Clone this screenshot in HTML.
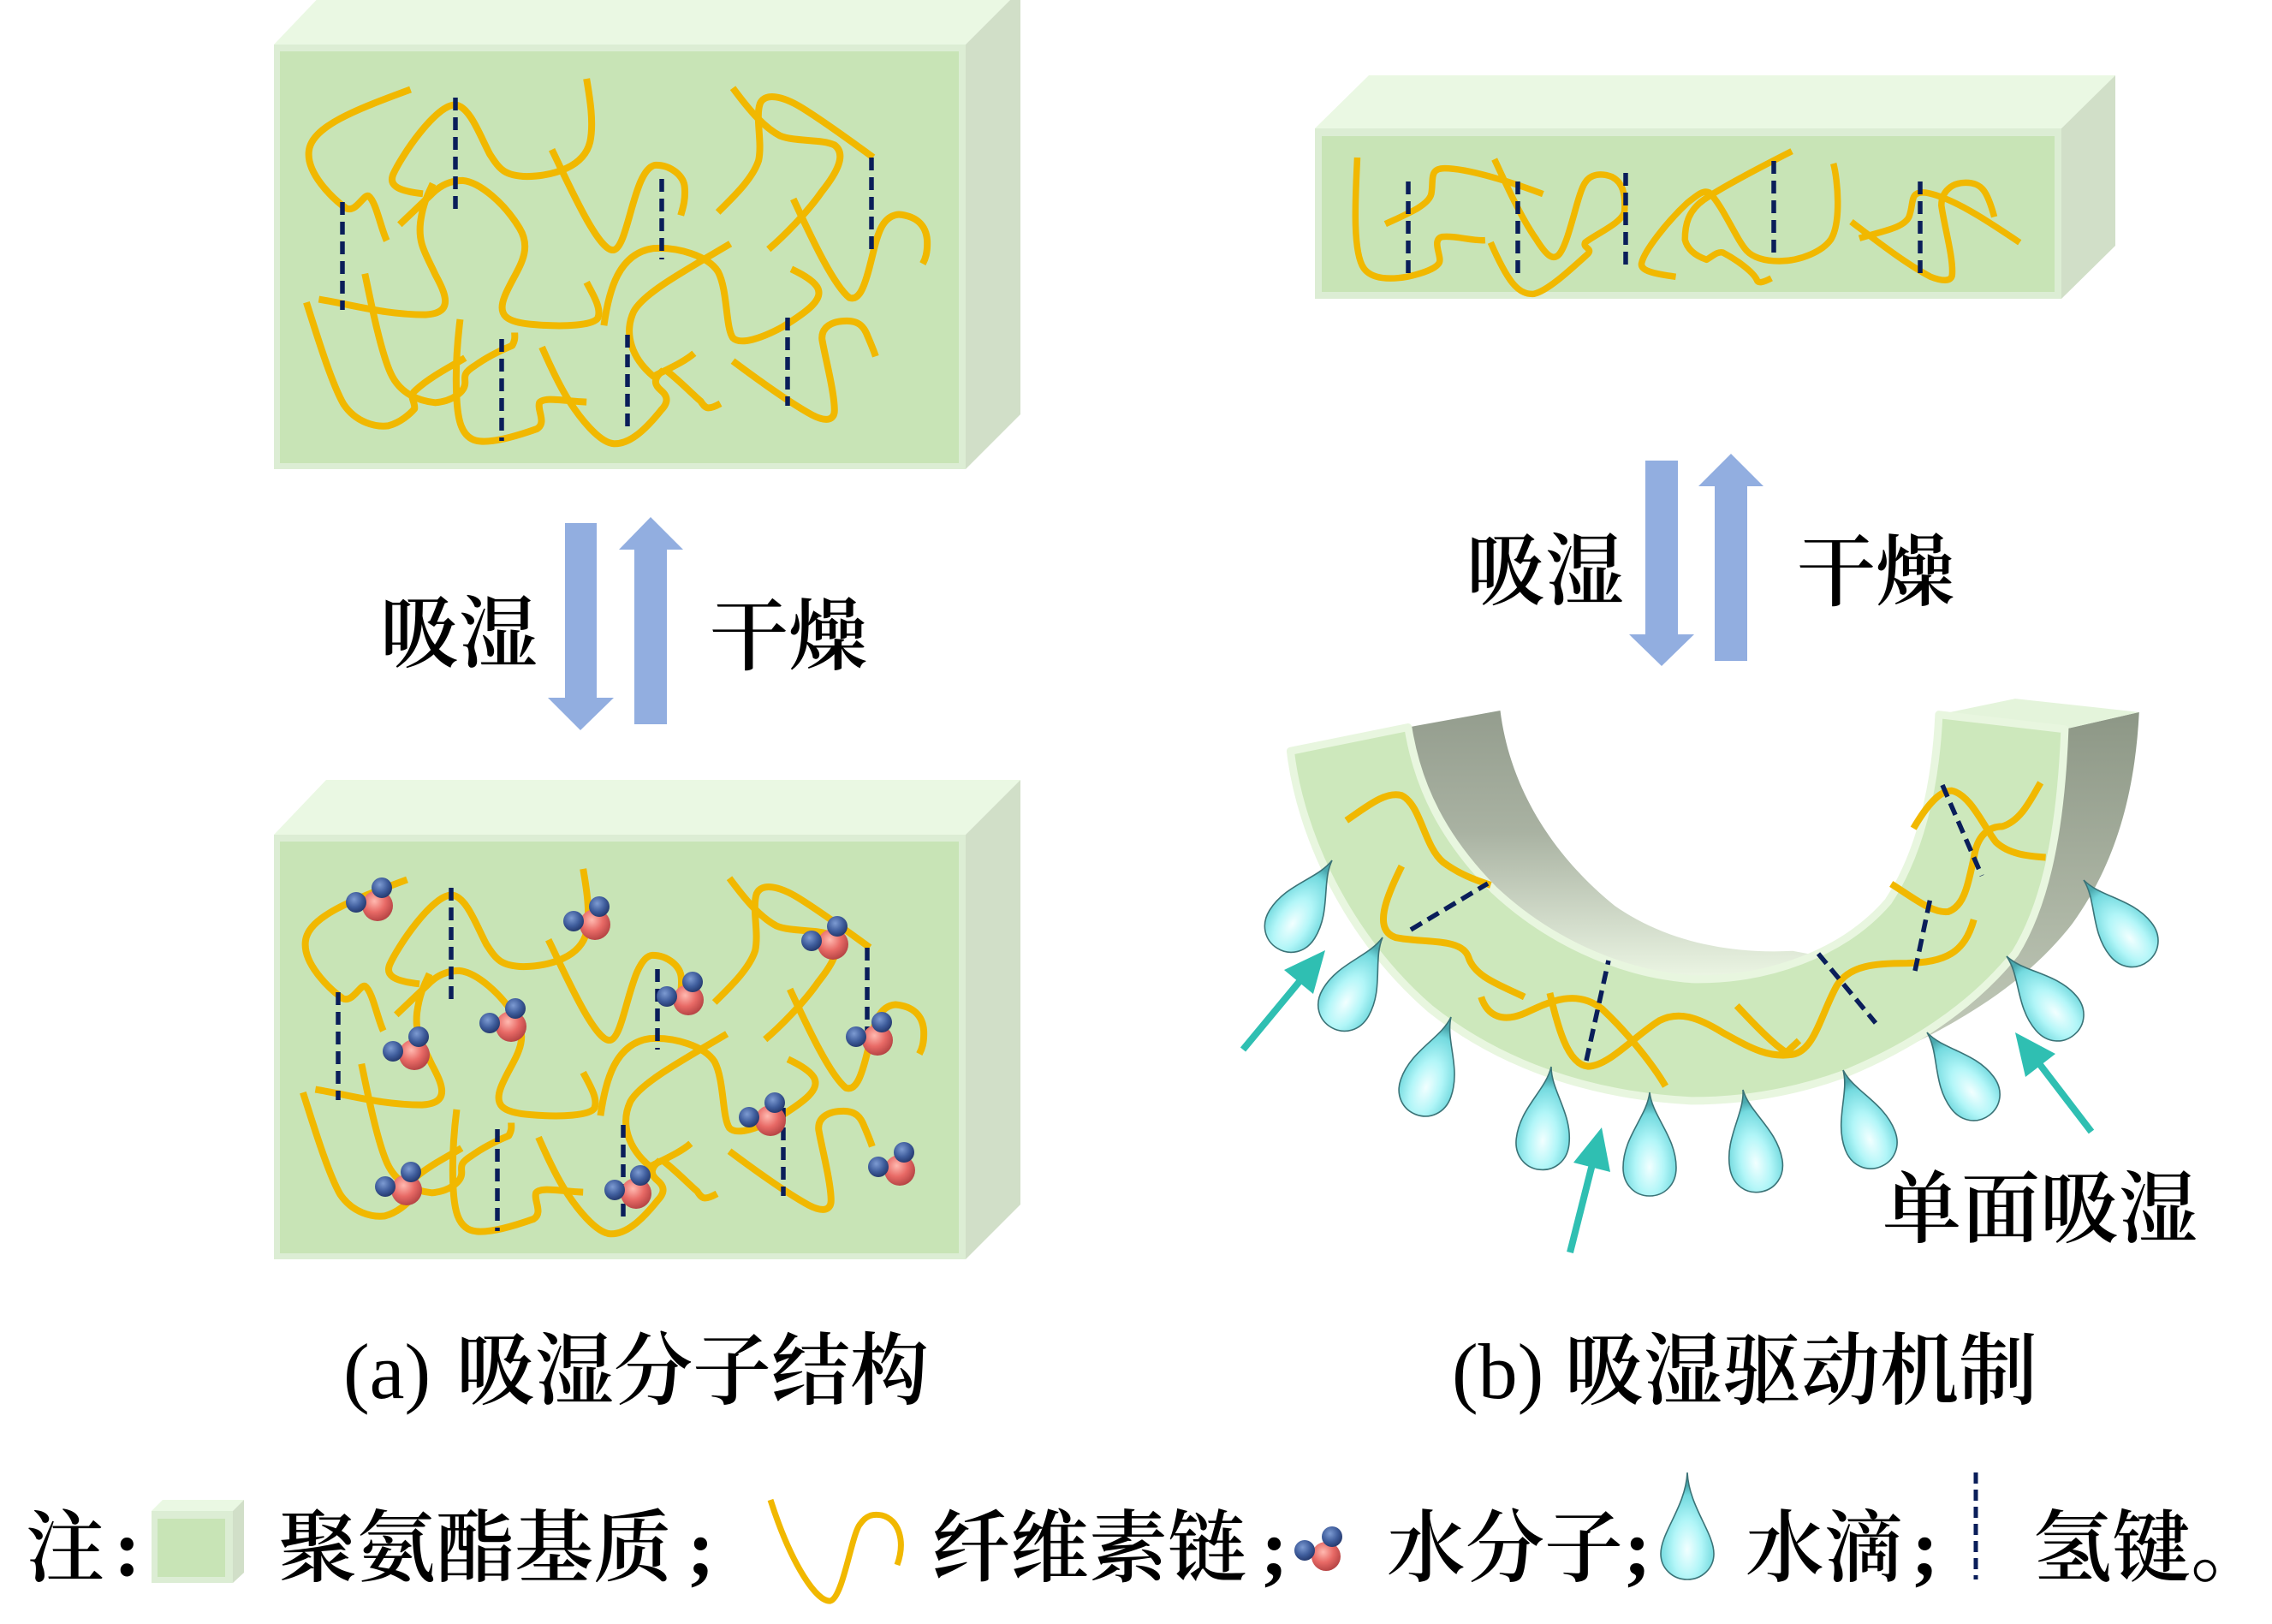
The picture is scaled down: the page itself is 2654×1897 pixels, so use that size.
<!DOCTYPE html>
<html><head><meta charset="utf-8"><style>
html,body{margin:0;padding:0;background:#fff;}
body{width:2654px;height:1897px;overflow:hidden;}
svg{display:block;}
.t{font-family:"Liberation Serif","Noto Serif CJK SC",serif;font-size:92px;font-weight:600;fill:#000;}
.tl{font-family:"Liberation Serif",serif;font-size:92px;font-weight:normal;fill:#000;}
.sc{font-family:"Liberation Serif",serif;font-weight:bold;font-size:94px;fill:#000;}
</style></head><body>
<svg width="2654" height="1897" viewBox="0 0 2654 1897" xmlns="http://www.w3.org/2000/svg">
<defs>
<radialGradient id="gO" cx="0.4" cy="0.35" r="0.65"><stop offset="0" stop-color="#ffb9b0"/><stop offset="0.55" stop-color="#e86a66"/><stop offset="1" stop-color="#b84646"/></radialGradient>
<radialGradient id="gH" cx="0.4" cy="0.35" r="0.65"><stop offset="0" stop-color="#7d9bd2"/><stop offset="0.6" stop-color="#3f5d9c"/><stop offset="1" stop-color="#263b70"/></radialGradient>
<radialGradient id="gD" cx="0.5" cy="0.72" r="0.6"><stop offset="0" stop-color="#f2ffff"/><stop offset="0.45" stop-color="#b2f6f8"/><stop offset="0.85" stop-color="#74dadf"/><stop offset="1" stop-color="#4aa8ae"/></radialGradient>
<linearGradient id="gIn" x1="0" y1="0" x2="0" y2="1"><stop offset="0" stop-color="#949d8e"/><stop offset="0.45" stop-color="#a9b2a2"/><stop offset="1" stop-color="#ecf6e4"/></linearGradient>
<linearGradient id="gSide" x1="0" y1="0" x2="0" y2="1"><stop offset="0" stop-color="#8d9786"/><stop offset="1" stop-color="#c6cebd"/></linearGradient>
<path id="drop" d="M0,0 C3,28 31,52 31,88 C31,108 17,121 0,121 C-17,121 -31,108 -31,88 C-31,52 -3,28 0,0 Z" fill="url(#gD)" stroke="#3b7377" stroke-width="1.6"/>
<path id="drop2" d="M0,0 C2,40 31,70 31,95 C31,112 17,125 0,125 C-17,125 -31,112 -31,95 C-31,70 -2,40 0,0 Z" fill="url(#gD)" stroke="#3b7377" stroke-width="1.6"/>
</defs>

<!-- ===== Box (a) top ===== -->
<polygon points="320,52 381,-12 1192,-12 1128,52" fill="#eaf8e3"/>
<polygon points="1128,52 1192,-12 1192,484 1128,548" fill="#d1dfc8"/>
<rect x="320" y="52" width="808" height="496" fill="#dcedd4"/>
<rect x="327" y="60" width="793" height="481" fill="#c8e4b6"/>

<g transform="translate(300,0) scale(0.5792,0.3604)" fill="none" stroke="#f1b800" stroke-linejoin="round">
<path vector-effect="non-scaling-stroke" stroke-width="8" d="M310,290 C200,355 110,410 105,490 C100,560 150,640 180,675 C200,690 215,630 225,635 C240,650 250,740 262,780"/>
<path vector-effect="non-scaling-stroke" stroke-width="8" d="M335,628 C290,620 265,605 275,565 C290,510 360,340 400,340 C430,345 450,440 470,500 C490,550 500,570 545,572 C600,570 660,540 672,460 C680,400 672,320 665,255"/>
<path vector-effect="non-scaling-stroke" stroke-width="8" d="M595,485 C630,600 690,820 720,810 C750,800 760,540 805,535 C835,535 862,570 863,610 C865,650 858,680 855,698"/>
<path vector-effect="non-scaling-stroke" stroke-width="8" d="M125,970 C200,990 260,1020 340,1020 C400,1015 380,950 360,890 C340,820 325,790 330,720 C335,660 345,630 355,595"/>
<path vector-effect="non-scaling-stroke" stroke-width="8" d="M288,728 L352,630 C370,600 390,585 415,585 C450,590 500,660 530,740 C560,820 520,880 500,960 C485,1020 500,1045 560,1052 C620,1060 680,1055 688,1030 C695,1000 680,960 665,915"/>
<path vector-effect="non-scaling-stroke" stroke-width="8" d="M700,1055 C710,940 730,820 800,805 C850,800 910,830 930,880 C950,940 945,1060 960,1095 C975,1120 1020,1095 1060,1060 C1110,1010 1145,970 1130,930 C1120,905 1095,885 1078,872"/>
<path vector-effect="non-scaling-stroke" stroke-width="8" d="M955,790 C860,880 780,950 760,1010 C740,1080 755,1160 800,1220 C830,1195 860,1175 882,1145"/>
<path vector-effect="non-scaling-stroke" stroke-width="8" d="M820,1200 C800,1225 800,1245 815,1265 C830,1285 830,1305 815,1330 C780,1400 750,1440 720,1438 C690,1435 650,1350 630,1300 C610,1250 590,1180 575,1125"/>
<path vector-effect="non-scaling-stroke" stroke-width="8" d="M825,1200 C850,1230 880,1280 895,1300 C905,1325 910,1330 935,1308"/>
<path vector-effect="non-scaling-stroke" stroke-width="8" d="M665,1303 C620,1300 580,1285 570,1305 C565,1330 585,1370 565,1390 C530,1410 480,1435 450,1430 C410,1425 405,1350 403,1290 C400,1200 405,1100 410,1035"/>
<path vector-effect="non-scaling-stroke" stroke-width="8" d="M100,980 C120,1080 150,1240 175,1310 C200,1370 240,1385 265,1380 C290,1370 310,1340 318,1325 C320,1300 305,1285 320,1265 C350,1220 400,1180 420,1160"/>
<path vector-effect="non-scaling-stroke" stroke-width="8" d="M218,887 C230,980 250,1140 270,1210 C290,1280 330,1300 360,1305 C395,1300 420,1270 420,1240 C420,1220 415,1210 440,1185 C470,1150 500,1130 515,1120 C522,1100 520,1090 520,1078"/>
<path vector-effect="non-scaling-stroke" stroke-width="8" d="M960,285 C990,350 1020,410 1055,440 C1085,460 1140,450 1165,470 C1190,500 1170,560 1140,620 C1110,690 1060,770 1032,808"/>
<path vector-effect="non-scaling-stroke" stroke-width="8" d="M930,688 C960,640 1000,580 1012,520 C1020,460 1005,380 1015,335 C1025,300 1060,310 1100,350 C1150,400 1200,460 1243,510"/>
<path vector-effect="non-scaling-stroke" stroke-width="8" d="M1082,645 C1110,740 1160,920 1195,965 C1215,975 1225,930 1235,870 C1250,780 1255,700 1295,695 C1330,700 1350,730 1352,780 C1353,820 1348,840 1343,855"/>
<path vector-effect="non-scaling-stroke" stroke-width="8" d="M960,1170 C1010,1230 1080,1310 1120,1345 C1150,1370 1165,1360 1165,1330 C1165,1270 1145,1150 1140,1100 C1138,1060 1160,1040 1190,1040 C1215,1040 1225,1060 1232,1090 C1240,1120 1245,1140 1248,1155"/>
</g>
<g stroke="#0a1e5a" stroke-width="5.5" stroke-dasharray="15 8" fill="none">
<line x1="400" y1="236" x2="400" y2="362"/>
<line x1="532" y1="114" x2="532" y2="252"/>
<line x1="773" y1="209" x2="773" y2="303"/>
<line x1="1018" y1="184" x2="1018" y2="292"/>
<line x1="586" y1="396" x2="586" y2="515"/>
<line x1="733" y1="391" x2="733" y2="505"/>
<line x1="920" y1="371" x2="920" y2="474"/>
</g>

<!-- ===== Box (a) bottom ===== -->
<polygon points="320,975 381,911 1192,911 1128,975" fill="#eaf8e3"/>
<polygon points="1128,975 1192,911 1192,1407 1128,1471" fill="#d1dfc8"/>
<rect x="320" y="975" width="808" height="496" fill="#dcedd4"/>
<rect x="327" y="983" width="793" height="481" fill="#c8e4b6"/>

<g transform="translate(296,923) scale(0.5792,0.3604)" fill="none" stroke="#f1b800" stroke-linejoin="round">
<path vector-effect="non-scaling-stroke" stroke-width="8" d="M310,290 C200,355 110,410 105,490 C100,560 150,640 180,675 C200,690 215,630 225,635 C240,650 250,740 262,780"/>
<path vector-effect="non-scaling-stroke" stroke-width="8" d="M335,628 C290,620 265,605 275,565 C290,510 360,340 400,340 C430,345 450,440 470,500 C490,550 500,570 545,572 C600,570 660,540 672,460 C680,400 672,320 665,255"/>
<path vector-effect="non-scaling-stroke" stroke-width="8" d="M595,485 C630,600 690,820 720,810 C750,800 760,540 805,535 C835,535 862,570 863,610 C865,650 858,680 855,698"/>
<path vector-effect="non-scaling-stroke" stroke-width="8" d="M125,970 C200,990 260,1020 340,1020 C400,1015 380,950 360,890 C340,820 325,790 330,720 C335,660 345,630 355,595"/>
<path vector-effect="non-scaling-stroke" stroke-width="8" d="M288,728 L352,630 C370,600 390,585 415,585 C450,590 500,660 530,740 C560,820 520,880 500,960 C485,1020 500,1045 560,1052 C620,1060 680,1055 688,1030 C695,1000 680,960 665,915"/>
<path vector-effect="non-scaling-stroke" stroke-width="8" d="M700,1055 C710,940 730,820 800,805 C850,800 910,830 930,880 C950,940 945,1060 960,1095 C975,1120 1020,1095 1060,1060 C1110,1010 1145,970 1130,930 C1120,905 1095,885 1078,872"/>
<path vector-effect="non-scaling-stroke" stroke-width="8" d="M955,790 C860,880 780,950 760,1010 C740,1080 755,1160 800,1220 C830,1195 860,1175 882,1145"/>
<path vector-effect="non-scaling-stroke" stroke-width="8" d="M820,1200 C800,1225 800,1245 815,1265 C830,1285 830,1305 815,1330 C780,1400 750,1440 720,1438 C690,1435 650,1350 630,1300 C610,1250 590,1180 575,1125"/>
<path vector-effect="non-scaling-stroke" stroke-width="8" d="M825,1200 C850,1230 880,1280 895,1300 C905,1325 910,1330 935,1308"/>
<path vector-effect="non-scaling-stroke" stroke-width="8" d="M665,1303 C620,1300 580,1285 570,1305 C565,1330 585,1370 565,1390 C530,1410 480,1435 450,1430 C410,1425 405,1350 403,1290 C400,1200 405,1100 410,1035"/>
<path vector-effect="non-scaling-stroke" stroke-width="8" d="M100,980 C120,1080 150,1240 175,1310 C200,1370 240,1385 265,1380 C290,1370 310,1340 318,1325 C320,1300 305,1285 320,1265 C350,1220 400,1180 420,1160"/>
<path vector-effect="non-scaling-stroke" stroke-width="8" d="M218,887 C230,980 250,1140 270,1210 C290,1280 330,1300 360,1305 C395,1300 420,1270 420,1240 C420,1220 415,1210 440,1185 C470,1150 500,1130 515,1120 C522,1100 520,1090 520,1078"/>
<path vector-effect="non-scaling-stroke" stroke-width="8" d="M960,285 C990,350 1020,410 1055,440 C1085,460 1140,450 1165,470 C1190,500 1170,560 1140,620 C1110,690 1060,770 1032,808"/>
<path vector-effect="non-scaling-stroke" stroke-width="8" d="M930,688 C960,640 1000,580 1012,520 C1020,460 1005,380 1015,335 C1025,300 1060,310 1100,350 C1150,400 1200,460 1243,510"/>
<path vector-effect="non-scaling-stroke" stroke-width="8" d="M1082,645 C1110,740 1160,920 1195,965 C1215,975 1225,930 1235,870 C1250,780 1255,700 1295,695 C1330,700 1350,730 1352,780 C1353,820 1348,840 1343,855"/>
<path vector-effect="non-scaling-stroke" stroke-width="8" d="M960,1170 C1010,1230 1080,1310 1120,1345 C1150,1370 1165,1360 1165,1330 C1165,1270 1145,1150 1140,1100 C1138,1060 1160,1040 1190,1040 C1215,1040 1225,1060 1232,1090 C1240,1120 1245,1140 1248,1155"/>
</g>
<g stroke="#0a1e5a" stroke-width="5.5" stroke-dasharray="15 8" fill="none" transform="translate(-5,923)">
<line x1="400" y1="236" x2="400" y2="362"/>
<line x1="532" y1="114" x2="532" y2="252"/>
<line x1="773" y1="209" x2="773" y2="303"/>
<line x1="1018" y1="184" x2="1018" y2="292"/>
<line x1="586" y1="396" x2="586" y2="515"/>
<line x1="733" y1="391" x2="733" y2="505"/>
<line x1="920" y1="371" x2="920" y2="474"/>
</g>
<!-- water molecules -->
<g>
<g transform="translate(441,1058)"><circle r="18" fill="url(#gO)"/><circle cx="-25" cy="-4" r="12" fill="url(#gH)"/><circle cx="5" cy="-21" r="12" fill="url(#gH)"/></g>
<g transform="translate(695,1080)"><circle r="18" fill="url(#gO)"/><circle cx="-25" cy="-4" r="12" fill="url(#gH)"/><circle cx="5" cy="-21" r="12" fill="url(#gH)"/></g>
<g transform="translate(597,1199)"><circle r="18" fill="url(#gO)"/><circle cx="-25" cy="-4" r="12" fill="url(#gH)"/><circle cx="5" cy="-21" r="12" fill="url(#gH)"/></g>
<g transform="translate(484,1232)"><circle r="18" fill="url(#gO)"/><circle cx="-25" cy="-4" r="12" fill="url(#gH)"/><circle cx="5" cy="-21" r="12" fill="url(#gH)"/></g>
<g transform="translate(804,1168)"><circle r="18" fill="url(#gO)"/><circle cx="-25" cy="-4" r="12" fill="url(#gH)"/><circle cx="5" cy="-21" r="12" fill="url(#gH)"/></g>
<g transform="translate(973,1103)"><circle r="18" fill="url(#gO)"/><circle cx="-25" cy="-4" r="12" fill="url(#gH)"/><circle cx="5" cy="-21" r="12" fill="url(#gH)"/></g>
<g transform="translate(1025,1215)"><circle r="18" fill="url(#gO)"/><circle cx="-25" cy="-4" r="12" fill="url(#gH)"/><circle cx="5" cy="-21" r="12" fill="url(#gH)"/></g>
<g transform="translate(900,1309)"><circle r="18" fill="url(#gO)"/><circle cx="-25" cy="-4" r="12" fill="url(#gH)"/><circle cx="5" cy="-21" r="12" fill="url(#gH)"/></g>
<g transform="translate(475,1390)"><circle r="18" fill="url(#gO)"/><circle cx="-25" cy="-4" r="12" fill="url(#gH)"/><circle cx="5" cy="-21" r="12" fill="url(#gH)"/></g>
<g transform="translate(743,1394)"><circle r="18" fill="url(#gO)"/><circle cx="-25" cy="-4" r="12" fill="url(#gH)"/><circle cx="5" cy="-21" r="12" fill="url(#gH)"/></g>
<g transform="translate(1051,1367)"><circle r="18" fill="url(#gO)"/><circle cx="-25" cy="-4" r="12" fill="url(#gH)"/><circle cx="5" cy="-21" r="12" fill="url(#gH)"/></g>
</g>

<!-- ===== Left arrows ===== -->
<g fill="#92aee0">
<rect x="660" y="611" width="37" height="205"/>
<polygon points="640,815 717,815 678,853"/>
<rect x="741" y="641" width="38" height="205"/>
<polygon points="723,642 798,642 760,604"/>
</g>
<text class="t" x="444" y="772">吸湿</text>
<text class="t" x="829" y="775">干燥</text>

<!-- ===== Box (b) ===== -->
<polygon points="1536,150 1599,88 2471,88 2408,150" fill="#eaf8e3"/>
<polygon points="2408,150 2471,88 2471,287 2408,349" fill="#d1dfc8"/>
<rect x="1536" y="150" width="872" height="199" fill="#dcedd4"/>
<rect x="1544" y="159" width="856" height="182" fill="#c8e4b6"/>
<g transform="translate(1530,60) scale(0.6306,0.3333)" fill="none" stroke="#f1b800" stroke-linejoin="round">
<path vector-effect="non-scaling-stroke" stroke-width="7.5" d="M88,372 C85,500 78,700 100,760 C115,800 150,800 180,790 C210,778 235,760 240,740 C245,720 225,660 245,650 C270,645 300,665 325,662"/>
<path vector-effect="non-scaling-stroke" stroke-width="7.5" d="M140,605 C180,570 220,540 225,500 C230,450 220,410 250,410 C290,410 370,455 432,500"/>
<path vector-effect="non-scaling-stroke" stroke-width="7.5" d="M342,378 C360,450 390,580 420,660 C440,720 450,730 460,715 C480,680 495,500 510,460 C520,430 540,425 560,440 C580,460 585,500 583,560 C580,600 530,640 510,670 C505,690 525,690 515,710 C480,770 440,840 415,850 C385,855 365,800 335,670"/>
<path vector-effect="non-scaling-stroke" stroke-width="7.5" d="M678,790 C640,780 610,770 615,740 C620,700 660,600 700,530 C720,500 730,485 740,495 C765,540 790,660 810,700 C820,720 840,735 870,735 C910,735 950,700 965,660 C985,600 978,450 970,393"/>
<path vector-effect="non-scaling-stroke" stroke-width="7.5" d="M893,350 C820,420 760,480 730,520 C700,560 695,610 695,660 C700,700 720,720 735,730 C745,720 755,700 765,705 C790,730 820,770 828,800 C830,815 840,810 855,795"/>
<path vector-effect="non-scaling-stroke" stroke-width="7.5" d="M1003,597 C1040,650 1100,740 1150,790 C1170,805 1190,810 1190,780 C1192,720 1175,610 1170,540 C1170,490 1190,460 1215,460 C1245,460 1255,490 1268,580"/>
<path vector-effect="non-scaling-stroke" stroke-width="7.5" d="M1018,655 C1060,630 1100,620 1110,580 C1120,530 1110,490 1140,495 C1190,510 1260,600 1315,670"/>
</g>
<g stroke="#0a1e5a" stroke-width="5.5" stroke-dasharray="15 8" fill="none">
<line x1="1645" y1="212" x2="1645" y2="325"/>
<line x1="1773" y1="212" x2="1773" y2="325"/>
<line x1="1899" y1="202" x2="1899" y2="315"/>
<line x1="2072" y1="188" x2="2072" y2="300"/>
<line x1="2243" y1="212" x2="2243" y2="325"/>
</g>

<!-- ===== Right arrows ===== -->
<g fill="#92aee0">
<rect x="1922" y="538" width="38" height="204"/>
<polygon points="1903,741 1979,741 1941,778"/>
<rect x="2003" y="567" width="38" height="205"/>
<polygon points="1984,568 2060,568 2022,530"/>
</g>
<text class="t" x="1713" y="699">吸湿</text>
<text class="t" x="2099" y="700">干燥</text>

<!-- ===== U shape ===== -->
<g transform="translate(1500,780) scale(0.7426,0.4633)">
<path d="M195,150 L340,108 C355,300 420,470 520,600 C600,690 700,722 800,714 L860,732 C780,782 700,790 640,785 C520,770 410,680 330,560 C250,430 210,300 195,150 Z" fill="url(#gIn)"/>
<path d="M1228,155 L1345,112 C1338,330 1305,500 1240,645 C1170,790 1060,910 880,1025 C980,960 1080,860 1150,720 C1200,590 1222,400 1228,155 Z" fill="url(#gSide)"/>
<path d="M1030,118 L1150,78 L1345,112 L1228,155 Z" fill="#e4f4db"/>
<path d="M8,206 L192,146 L200,152 L18,214 Z" fill="#eaf7e2"/>
<path vector-effect="non-scaling-stroke" d="M10,210 L195,150 C210,300 250,430 330,560 C410,680 520,770 640,785 C760,790 880,720 950,590 C1000,470 1025,300 1030,118 L1228,155 C1222,400 1200,590 1150,720 C1080,860 980,960 880,1025 C820,1060 740,1092 640,1092 C480,1078 340,1000 230,860 C100,680 25,420 10,210 Z" fill="#cde8bc" stroke="#e8f6df" stroke-width="9" stroke-linejoin="round"/>
<g fill="none" stroke="#f1b800" stroke-linejoin="round">
<path vector-effect="non-scaling-stroke" stroke-width="8" d="M98,385 C130,350 160,310 185,322 C215,345 220,450 250,490 C275,520 300,535 325,548"/>
<path vector-effect="non-scaling-stroke" stroke-width="8" d="M185,500 C160,580 140,660 175,680 C220,695 280,680 290,730 C300,780 340,800 378,830"/>
<path vector-effect="non-scaling-stroke" stroke-width="8" d="M310,830 C320,880 345,895 380,870 C420,840 460,810 500,860 C540,920 580,1000 600,1055"/>
<path vector-effect="non-scaling-stroke" stroke-width="8" d="M418,820 C430,900 445,1000 478,1005 C510,1005 550,930 590,890 C620,865 650,880 690,920 C730,955 760,985 800,975 C835,965 845,870 870,800 C890,750 930,745 980,745 C1040,742 1070,720 1085,635"/>
<path vector-effect="non-scaling-stroke" stroke-width="8" d="M712,852 C740,900 770,950 790,970 L810,940"/>
<path vector-effect="non-scaling-stroke" stroke-width="8" d="M955,545 C990,580 1020,620 1045,615 C1070,600 1075,550 1085,480 C1090,420 1110,400 1130,400 C1160,385 1175,330 1190,290"/>
<path vector-effect="non-scaling-stroke" stroke-width="8" d="M990,405 C1010,350 1030,310 1050,310 C1080,320 1100,400 1120,440 C1140,470 1170,475 1198,478"/>
</g>
</g>
<g stroke="#0a1e5a" stroke-width="5.5" stroke-dasharray="15 8" fill="none">
<line x1="1648" y1="1086" x2="1738" y2="1032"/>
<line x1="1853" y1="1239" x2="1879" y2="1122"/>
<line x1="2124" y1="1114" x2="2191" y2="1195"/>
<line x1="2237" y1="1134" x2="2256" y2="1044"/>
<line x1="2269" y1="917" x2="2315" y2="1023"/>
</g>
<!-- drops -->
<use href="#drop" transform="translate(1556,1005) rotate(32)"/>
<use href="#drop" transform="translate(1615,1095) rotate(29.5)"/>
<use href="#drop" transform="translate(1695,1188) rotate(19.5)"/>
<use href="#drop" transform="translate(1812,1246) rotate(6.5)"/>
<use href="#drop" transform="translate(1927,1276)"/>
<use href="#drop" transform="translate(2036,1273) rotate(-10)"/>
<use href="#drop" transform="translate(2153,1250) rotate(-21)"/>
<use href="#drop" transform="translate(2251,1206) rotate(-37)"/>
<use href="#drop" transform="translate(2344,1117) rotate(-41)"/>
<use href="#drop" transform="translate(2434,1028) rotate(-38.5)"/>
<!-- cyan arrows -->
<g stroke="#2fbfb2" stroke-width="8" fill="none">
<line x1="1452" y1="1226" x2="1520" y2="1144"/>
<line x1="1834" y1="1463" x2="1860" y2="1360"/>
<line x1="2443" y1="1322" x2="2381" y2="1241"/>
</g>
<g fill="#2fbfb2">
<polygon points="1548,1110 1534,1161 1500,1133"/>
<polygon points="1871,1317 1881,1369 1838,1358"/>
<polygon points="2354,1206 2401,1231 2366,1258"/>
</g>
<text class="t" x="2199" y="1444">单面吸湿</text>

<!-- ===== Captions ===== -->
<text class="tl" x="401" y="1633">(a)</text>
<text class="t" x="533" y="1633">吸湿分子结构</text>
<text class="tl" x="1696" y="1633">(b)</text>
<text class="t" x="1828" y="1633">吸湿驱动机制</text>

<!-- ===== Legend ===== -->
<text class="t" x="30" y="1840">注</text>
<text class="sc" x="133" y="1840">:</text>
<polygon points="177,1765 190,1752 285,1752 272,1765" fill="#eaf8e3"/>
<polygon points="272,1765 285,1752 285,1837 272,1849" fill="#d1dfc8"/>
<rect x="177" y="1765" width="95" height="84" fill="#dcedd4"/>
<rect x="184" y="1774" width="79" height="68" fill="#c8e4b6"/>
<text class="t" x="325" y="1840">聚氨酯基质</text>
<text class="sc" x="803" y="1840">;</text>
<path d="M900,1752 C925,1830 955,1872 970,1870 C985,1866 995,1790 1005,1780 C1012,1770 1020,1768 1030,1770 C1050,1775 1058,1800 1048,1828" fill="none" stroke="#f1b800" stroke-width="7"/>
<text class="t" x="1088" y="1840">纤维素链</text>
<text class="sc" x="1473" y="1840">;</text>
<circle cx="1549" cy="1818" r="17" fill="url(#gO)"/>
<circle cx="1524" cy="1811" r="12" fill="url(#gH)"/>
<circle cx="1556" cy="1795" r="12" fill="url(#gH)"/>
<text class="t" x="1620" y="1840">水分子</text>
<text class="sc" x="1897" y="1840">;</text>
<use href="#drop2" transform="translate(1971,1720)"/>
<text class="t" x="2039" y="1840">水滴</text>
<text class="sc" x="2233" y="1840">;</text>
<line x1="2308" y1="1720" x2="2308" y2="1845" stroke="#0a1e5a" stroke-width="5" stroke-dasharray="13 7"/>
<text class="t" x="2375" y="1840">氢键。</text>
</svg>
</body></html>
